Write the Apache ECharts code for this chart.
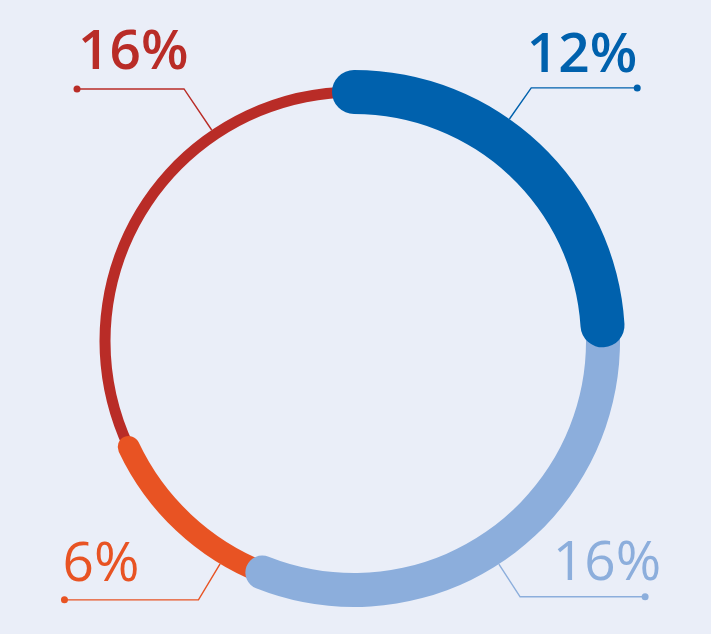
<!DOCTYPE html>
<html><head><meta charset="utf-8">
<script src="https://cdn.jsdelivr.net/npm/echarts@6/dist/echarts.min.js"></script>
<style>html,body{margin:0;padding:0;background:#EAEEF8}#c{width:711px;height:634px}</style>
</head><body><div id="c"></div>
<script>
// ---- data ----
const segmentNames = ['Segment 1', 'Segment 2', 'Segment 3', 'Segment 4'];
const segmentValues = [12, 16, 6, 16];
const segmentLabels = ['12%', '16%', '6%', '16%'];
// where each leader line leaves the ring (degrees clockwise from 12 o'clock)
const labelAngles = [35, 147, 211, 326];

// ---- style / layout ----
const colors = ['#0061AD', '#8CAEDC', '#E85323', '#B92C27'];
const widths = [44, 34, 22, 11];
const weights = [600, 400, 400, 600];
const bendR = [309, 305, 302, 304];
const armLen = [106, 125, 134, 107];
const textDx = [0, 16, -2, 1];
const textDy = [31.5, 32, 34.5, 35.5];
const CX = 354, CY = 341, R = 249;

const total = segmentValues.reduce((a, b) => a + b, 0);
const offsets = segmentValues.map((v, i) => segmentValues.slice(0, i).reduce((a, b) => a + b, 0));

const polar = [], angleAxis = [], radiusAxis = [], series = [];
segmentValues.forEach((v, i) => {
  polar.push({ center: [CX, CY], radius: [R - widths[i] / 2, R + widths[i] / 2] });
  angleAxis.push({ polarIndex: i, type: 'value', min: 0, max: total, startAngle: 90, clockwise: true, show: false });
  radiusAxis.push({ polarIndex: i, type: 'category', data: [segmentNames[i]], show: false });
  series.push({ type: 'bar', coordinateSystem: 'polar', polarIndex: i, stack: 's' + i, data: [offsets[i]],
    itemStyle: { color: 'rgba(0,0,0,0)' }, silent: true, barWidth: '100%', z: 10 - i });
  series.push({ type: 'bar', coordinateSystem: 'polar', polarIndex: i, stack: 's' + i, data: [v], name: segmentNames[i],
    roundCap: true, itemStyle: { color: colors[i] }, barWidth: '100%', z: 10 - i });
});

// label polar (pixel-valued radius, degree-valued angle)
polar.push({ center: [CX, CY], radius: [0, 400] });
angleAxis.push({ polarIndex: 4, type: 'value', min: 0, max: 360, startAngle: 90, clockwise: true, show: false });
radiusAxis.push({ polarIndex: 4, type: 'value', min: 0, max: 400, show: false });
series.push({
  type: 'custom', coordinateSystem: 'polar', polarIndex: 4, z: 20, silent: true,
  data: labelAngles.map(a => [R, a]),
  renderItem: function (params, api) {
    const i = params.dataIndex;
    const ang = api.value(1);
    const p0 = api.coord([R + widths[i] / 2, ang]);
    const p1 = api.coord([bendR[i], ang]);
    const right = p1[0] > CX;
    const p2 = [p1[0] + (right ? 1 : -1) * armLen[i], p1[1]];
    return { type: 'group', children: [
      { type: 'polyline', shape: { points: [p0, p1, p2] }, style: { stroke: colors[i], lineWidth: 1.4, fill: null } },
      { type: 'circle', shape: { cx: p2[0], cy: p2[1], r: 3.5 }, style: { fill: colors[i] } },
      { type: 'text', x: p2[0] + textDx[i], y: p2[1] - textDy[i], style: {
          text: segmentLabels[i], fill: colors[i], align: right ? 'right' : 'left', verticalAlign: 'middle',
          font: weights[i] + ' 55px "Open Sans", "Noto Sans", sans-serif' } }
    ] };
  }
});

const chart = echarts.init(document.getElementById('c'), null, { renderer: 'canvas' });
chart.setOption({
  backgroundColor: '#EAEEF8',
  animation: false,
  polar: polar, angleAxis: angleAxis, radiusAxis: radiusAxis, series: series
});
</script></body></html>
